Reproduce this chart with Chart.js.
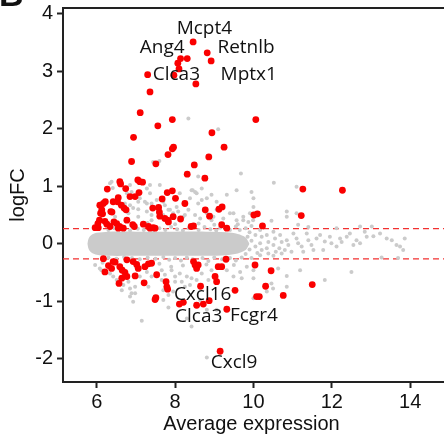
<!DOCTYPE html>
<html>
<head>
<meta charset="utf-8">
<script src="https://cdn.jsdelivr.net/npm/chart.js@4.4.0/dist/chart.umd.min.js"></script>
<style>
  body { margin: 0; background: #fff; }
  #wrap { width: 444px; height: 436px; }
</style>
</head>
<body>
<div id="wrap"><canvas id="maChart"></canvas></div>
<script>
// axis ticks and fold-change cutoffs
const xTicks = [6, 8, 10, 12, 14];
const yTicks = [-2, -1, 0, 1, 2, 3, 4];
const cutoffs = [0.263, -0.263];

// outline of the dense grey core (too dense to read single genes)
const coreUpper = [[5.76,0],[5.8,0.1],[5.88,0.16],[6.0,0.19],[6.3,0.21],[7.0,0.21],[8.0,0.21],[8.8,0.21],[9.3,0.2],[9.6,0.17],[9.8,0.11],[9.9,0]];
const coreLower = [[5.76,0],[5.8,-0.1],[5.88,-0.16],[6.0,-0.19],[6.3,-0.21],[7.0,-0.21],[8.0,-0.21],[8.8,-0.21],[9.3,-0.2],[9.6,-0.17],[9.8,-0.11],[9.9,0]];

// not significant genes, outside the core
const grayPts = [
  [6.34,1.05],[6.41,0.97],[6.85,1.02],[7.28,0.96],[7.36,1.02],[7.61,1.02],[8.12,0.88],[8.38,0.79],[8.51,0.90],
  [8.68,0.96],[8.68,0.76],[8.81,0.79],[8.93,0.85],[9.06,0.73],[9.32,0.85],[9.57,0.93],[9.68,1.22],[10.0,0.79],
  [7.10,0.79],[7.23,0.73],[7.40,0.70],[7.53,0.76],[7.70,0.73],[6.72,0.70],[6.85,0.67],[6.93,0.62],[7.06,0.60],
  [7.28,0.56],[7.40,0.50],[7.57,0.56],[7.70,0.50],[7.83,0.59],[7.95,0.53],
  [8.08,0.56],[8.21,0.47],[8.34,0.59],[8.51,0.50],[8.64,0.44],[8.81,0.53],[8.93,0.41],[9.06,0.59],[9.23,0.44],
  [9.40,0.53],[9.57,0.41],[9.74,0.47],[9.87,0.38],[9.99,0.41],
  [8.34,2.18],[9.10,1.99],[7.44,1.42],[7.60,1.44],[8.59,1.17],[10.52,1.06],[11.10,0.99],[8.45,0.93],[8.55,0.88],
  [7.36,0.88],[8.98,0.47],[9.49,0.53],[9.91,0.53],[10.0,0.64],[10.85,0.56],[11.10,0.53],
  [6.38,1.08],[6.77,0.88],[6.89,0.90],[7.06,0.73],[7.28,0.70],[7.53,0.62],[7.74,0.67],[7.87,0.59],[8.04,0.64],
  [8.25,0.50],[8.42,0.93],[8.59,0.70],[6.47,0.47],[6.81,0.53],[7.06,0.47],[7.40,0.41],
  [9.95,0.90],[10.85,0.47],[9.74,0.41],[9.95,0.31],[10.46,0.40],[11.14,0.33],[11.40,0.29],[12.12,0.27],[13.02,0.30],
  [13.23,0.18],[13.40,0.09],[13.53,0.06],[13.65,-0.02],[13.74,-0.05],[13.86,0.09],[13.82,-0.11],[12.84,0.21],
  [12.89,0.12],[12.63,0.06],[12.72,0.01],[12.55,-0.02],[12.46,0.18],[12.38,0.12],[12.21,0.09],[12.25,0.03],
  [12.12,-0.05],[11.95,0.12],[11.99,0.01],[11.82,0.04],[11.78,-0.11],[11.61,0.09],[11.70,0.15],[11.48,-0.02],
  [11.53,-0.11],[11.36,0.18],[11.40,0.06],[11.23,-0.05],[11.27,-0.14],[11.10,0.09],[11.14,0.01],[11.02,0.18],
  [10.97,-0.14],[10.85,0.06],[10.89,-0.02],[10.80,-0.11],[10.68,0.15],[10.72,0.03],[10.66,-0.08],[10.72,-0.17],
  [10.51,0.21],[10.55,0.09],[10.51,-0.02],[10.57,-0.14],[10.51,-0.21],[10.34,0.15],[10.38,0.03],[10.34,-0.08],
  [10.38,-0.17],[10.17,0.24],[10.21,0.12],[10.17,0.01],[10.21,-0.11],[10.17,-0.20],
  [10.63,-0.43],[10.85,-0.56],[11.19,-0.46],[11.82,-0.63],[12.50,-0.49],[10.46,-0.69],[10.0,-0.60],[9.70,-0.60],
  [10.34,-0.83],[13.69,-0.25],[13.27,-0.24],[12.72,0.30],[13.06,0.13],
  [6.34,-0.52],[6.42,-0.57],[6.51,-0.63],[6.68,-0.72],[6.85,-0.78],[6.98,-0.86],[7.10,-0.57],[7.28,-0.49],
  [7.40,-0.57],[7.23,-0.69],[7.66,-0.46],[7.74,-0.54],[7.91,-0.46],[8.0,-0.57],[8.12,-0.52],[8.17,-0.66],
  [8.30,-0.57],[8.38,-0.72],[8.55,-0.63],[8.68,-0.52],[8.85,-0.63],[8.93,-0.46],[9.32,-0.46],[9.49,-0.57],
  [9.66,-0.49],[9.83,-0.40],[10.0,-0.46],[7.70,-0.81],[7.83,-0.89],[7.95,-0.83],[6.85,-0.92],[6.93,-1.01],
  [7.15,-1.34],[8.42,-1.44],[8.30,-1.30],[8.81,-1.98],[7.83,-1.11],[7.70,-0.98],[8.64,-0.98],[8.81,-1.15],
  [9.06,-1.15],[10.0,-0.95],[10.5,-0.78],[10.85,-0.75],
  [5.96,-0.37],[6.08,-0.43],[6.12,-0.46],[6.55,-0.69],[6.81,-0.66],[6.98,-0.75],[7.19,-0.66],[7.32,-0.75],
  [7.66,-0.63],[8.0,-0.66],[8.25,-0.75],[8.42,-0.60],[6.64,-0.81],[6.89,-0.86],
  [6.3,0.24],[6.45,0.27],[6.7,0.25],[6.85,0.23],[7.05,0.26],[7.2,0.24],[7.45,0.23],[7.6,0.27],[7.75,0.24],
  [7.9,0.29],[8.05,0.25],[8.2,0.23],[8.35,0.27],[8.6,0.24],[8.75,0.29],[8.9,0.25],[9.05,0.23],[9.15,0.28],
  [9.4,0.24],[9.55,0.3],[9.65,0.24],[9.8,0.27],[9.9,0.2],[8.0,0.34],[8.6,0.35],[9.0,0.33],[7.3,0.36],[9.6,0.34],
  [9.85,0.12],[9.9,-0.1],[9.95,0.05],[10.05,-0.05],[10.05,0.15],[10.1,-0.16],[9.8,-0.18],[9.95,-0.25],
  [6.3,-0.24],[6.5,-0.26],[6.7,-0.23],[6.9,-0.25],[7.1,-0.27],[7.3,-0.24],[7.5,-0.26],[7.7,-0.23],[7.85,-0.28],
  [8.0,-0.25],[8.15,-0.29],[8.3,-0.24],[8.45,-0.27],[8.7,-0.25],[8.85,-0.3],[9.0,-0.24],[9.2,-0.27],[9.4,-0.25],
  [9.55,-0.29],[9.7,-0.24],[7.6,-0.35],[8.2,-0.38],[8.8,-0.36],[9.5,-0.37],[6.15,-0.33],[7.0,-0.4],[7.9,-0.4]
];

// significant genes
const redPts = [
  [8.46,3.51],[8.82,3.32],[8.92,3.18],[8.14,3.22],[8.31,3.22],[8.07,3.14],[8.10,3.04],[7.97,2.93],[7.30,2.94],
  [8.53,2.78],[7.36,2.64],[7.11,2.28],[7.93,2.16],[10.06,2.16],[7.56,2.05],[6.94,1.85],[8.94,1.93],[7.96,1.68],
  [7.93,1.65],[9.25,1.68],[7.82,1.55],[8.86,1.51],[6.89,1.43],[7.51,1.39],[8.49,1.37],[8.31,1.21],[8.76,1.14],
  [11.26,0.95],[12.27,0.93],[6.27,0.95],[6.59,1.08],[6.61,1.04],[7.05,1.11],[7.10,1.08],[7.17,1.07],[6.74,0.96],
  [6.17,0.70],[6.22,0.73],[6.42,0.73],[6.53,0.73],[6.55,0.80],[6.63,0.67],[6.70,0.62],[6.75,0.59],[6.85,0.82],
  [6.98,0.82],[7.08,0.89],[7.43,0.62],[7.58,0.63],[7.67,0.78],[7.80,0.89],[7.93,0.92],[8.01,0.79],[8.25,0.70],
  [8.77,0.59],[8.88,0.48],[9.12,0.60],[9.20,0.64],[10.01,0.50],[10.10,0.52],[11.22,0.49],[6.10,0.53],[6.13,0.59],
  [6.39,0.55],[7.61,0.48],[7.95,0.47],[8.14,0.43],[6.08,0.67],[6.15,0.52],[6.36,0.56],[6.07,0.41],[6.03,0.35],
  [5.96,0.28],[6.04,0.28],[6.21,0.39],[6.26,0.34],[6.44,0.38],[6.51,0.35],[6.58,0.30],[6.62,0.28],[6.77,0.41],
  [6.92,0.33],[6.96,0.30],[7.19,0.34],[7.32,0.30],[7.44,0.28],[7.60,0.55],[7.81,0.41],[8.41,0.30],[8.47,0.31],
  [9.19,0.33],[9.32,0.27],[10.23,0.31],[6.34,0.30],[6.55,0.27],[6.68,0.27],[7.36,0.27],[7.49,0.27],[7.74,0.44],
  [7.83,0.38],
  [6.17,-0.26],[6.21,-0.49],[6.30,-0.38],[6.38,-0.43],[6.42,-0.31],[6.47,-0.32],[6.57,-0.69],[6.59,-0.40],
  [6.65,-0.46],[6.72,-0.50],[6.77,-0.57],[6.64,-0.60],[6.77,-0.28],[6.93,-0.31],[7.02,-0.36],[7.06,-0.43],
  [6.98,-0.56],[7.21,-0.68],[7.23,-0.40],[7.32,-0.35],[7.40,-0.34],[7.53,-0.54],[7.51,-0.94],[7.49,-0.97],
  [7.77,-0.66],[7.79,-0.75],[7.81,-0.79],[8.47,-0.31],[8.51,-0.37],[8.59,-0.37],[8.55,-0.43],[9.10,-0.40],
  [9.19,-0.40],[9.30,-0.27],[9.02,-0.57],[9.06,-0.66],[8.65,-0.74],[9.53,-0.81],[10.04,-0.37],[10.45,-0.47],
  [10.31,-0.74],[10.08,-0.92],[10.15,-0.92],[10.76,-0.90],[11.50,-0.71],[8.11,-1.05],[8.21,-1.02],[8.55,-1.07],
  [8.72,-1.05],[8.87,-0.99],[9.32,-1.14],[9.15,-1.87]
];

// gene names: text, x, y of the baseline start
const geneLabels = [
  ["Mcpt4", 8.04, 3.647], ["Ang4", 7.10, 3.311], ["Retnlb", 9.08, 3.311],
  ["Clca3", 7.43, 2.847], ["Mptx1", 9.16, 2.847],
  ["Cxcl16", 7.97, -0.979], ["Clca3", 8.0, -1.362], ["Fcgr4", 9.40, -1.336], ["Cxcl9", 8.91, -2.157]
];

const toXY = (p) => ({ x: p[0], y: p[1] });
const grey = "#cbcbcb";
const red = "#fa0000";

//draws cutoff lines, top frame, panel letter and gene names
const extras = {
  id: "extras",
  beforeDatasetsDraw(chart) {
    const { ctx, chartArea, scales } = chart;
    ctx.save();
    ctx.strokeStyle = "#f23030";
    ctx.lineWidth = 1.3;
    ctx.setLineDash([6, 4]);
    cutoffs.forEach((c) => {
      const y = scales.y.getPixelForValue(c);
      ctx.beginPath();
      ctx.moveTo(chartArea.left, y);
      ctx.lineTo(chart.width, y);
      ctx.stroke();
    });
    ctx.restore();
  },
  afterDatasetsDraw(chart) {
    const { ctx, chartArea, scales } = chart;
    ctx.save();
    ctx.strokeStyle = "#222";
    ctx.lineWidth = 2;
    ctx.beginPath();
    ctx.moveTo(chartArea.left - 1, chartArea.top);
    ctx.lineTo(chart.width, chartArea.top);
    ctx.moveTo(chartArea.right, chartArea.bottom);
    ctx.lineTo(chart.width, chartArea.bottom);
    ctx.stroke();

    ctx.fillStyle = "#111";
    ctx.font = "bold 34px 'Liberation Sans', Arial, sans-serif";
    ctx.textBaseline = "alphabetic";
    ctx.fillText("B", -1, 6);

    ctx.font = "19px 'Open Sans', sans-serif";
    geneLabels.forEach((g) => {
      ctx.fillText(g[0], scales.x.getPixelForValue(g[1]), scales.y.getPixelForValue(g[2]));
    });
    ctx.restore();
  }
};

const tickFont = { family: "'Liberation Sans', Arial, sans-serif", size: 20 };

const ctx = document.getElementById("maChart").getContext("2d");
const myChart = new Chart(ctx, {
  type: "scatter",
  data: {
    datasets: [
      {
        data: redPts.map(toXY),
        backgroundColor: red,
        pointRadius: 3.4,
        borderWidth: 0,
        order: 0,
      },
      {
        data: grayPts.map(toXY),
        backgroundColor: grey,
        pointRadius: 2,
        borderWidth: 0,
        order: 1,
      },
      {
        type: "line",
        data: coreUpper.map(toXY),
        borderWidth: 0,
        pointRadius: 0,
        tension: 0.3,
        fill: false,
        order: 2,
      },
      {
        type: "line",
        data: coreLower.map(toXY),
        borderWidth: 0,
        pointRadius: 0,
        tension: 0.3,
        backgroundColor: grey,
        fill: "-1",
        order: 3,
      },
    ],
  },
  options: {
    responsive: true,
    maintainAspectRatio: false,
    animation: false,
    layout: { padding: { top: 8, right: 0, left: 0, bottom: 0 } },
    plugins: { legend: { display: false }, tooltip: { enabled: false } },
    scales: {
      x: {
        type: "linear",
        min: 5.14,
        max: 14.76,
        afterBuildTicks: (s) => { s.ticks = xTicks.map((v) => ({ value: v })); },
        afterFit: (s) => { s.height = 54; s.paddingLeft = 0; s.paddingRight = 0; },
        grid: { drawOnChartArea: false, drawTicks: true, tickLength: 6, tickWidth: 2, tickColor: "#222" },
        border: { display: true, color: "#222", width: 2 },
        ticks: { color: "#111", font: tickFont, padding: 2, maxRotation: 0 },
        title: { display: true, text: "Average expression", color: "#111", font: tickFont, padding: { top: 0, bottom: 0 } },
      },
      y: {
        type: "linear",
        min: -2.405,
        max: 4.1,
        afterBuildTicks: (s) => { s.ticks = yTicks.map((v) => ({ value: v })); },
        afterFit: (s) => { s.width = 63; s.paddingTop = 0; s.paddingBottom = 0; },
        grid: { drawOnChartArea: false, drawTicks: true, tickLength: 6, tickWidth: 2, tickColor: "#222" },
        border: { display: true, color: "#222", width: 2 },
        ticks: { color: "#111", font: tickFont, padding: 4 },
        title: { display: true, text: "logFC", color: "#111", font: tickFont, padding: { top: 6, bottom: 0 } },
      },
    },
  },
  plugins: [extras],
});
</script>
</body>
</html>
